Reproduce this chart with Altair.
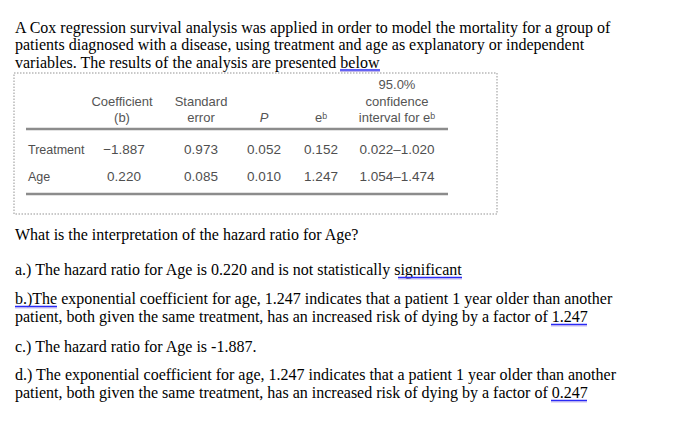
import altair as alt
import pandas as pd

# body text of the question, one entry per printed line
body_lines = [
    "A Cox regression survival analysis was applied in order to model the mortality for a group of",
    "patients diagnosed with a disease, using treatment and age as explanatory or independent",
    "variables. The results of the analysis are presented below",
    "What is the interpretation of the hazard ratio for Age?",
    "a.) The hazard ratio for Age is 0.220 and is not statistically significant",
    "b.)The exponential coefficient for age, 1.247 indicates that a patient 1 year older than another",
    "patient, both given the same treatment, has an increased risk of dying by a factor of 1.247",
    "c.) The hazard ratio for Age is -1.887.",
    "d.) The exponential coefficient for age, 1.247 indicates that a patient 1 year older than another",
    "patient, both given the same treatment, has an increased risk of dying by a factor of 0.247",
]

# table contents
col_headers = [
    ["Coefficient", "(b)"],
    ["Standard", "error"],
    ["P"],
    ["e\u1d47"],
    ["95.0%", "confidence", "interval for e\u1d47"],
]
row_labels = ["Treatment", "Age"]
coef = ["\u22121.887", "0.220"]
std_err = ["0.973", "0.085"]
p_value = ["0.052", "0.010"]
exp_b = ["0.152", "1.247"]
conf_int = ["0.022\u20131.020", "1.054\u20131.474"]

# layout (page pixel positions of the reference)
left_margin = 15
body_baselines = [32.5, 50, 67.5, 239.5, 274.5, 303.5, 321.5, 351.5, 379.5, 397.5]
underlines = [(340, 380, 70), (398, 462, 277.5), (15, 57, 306.5), (551, 587, 324.5), (551, 587, 400.5)]
col_x = [122, 201, 264, 321, 397]
num_x = [124, 201, 264, 321, 397]
header_bottom = 118
header_step = 16.5
row_y = [150, 177]
label_x = 28
rule_y = [129, 194]
rule_x = (26, 448)
box = (14, 497, 73, 214)

xs = alt.Scale(domain=[8, 679], nice=False, zero=False)
ys = alt.Scale(domain=[8, 415], nice=False, zero=False, reverse=True)


def X(f):
    return alt.X(f, type="quantitative", scale=xs, axis=None)


def Y(f):
    return alt.Y(f, type="quantitative", scale=ys, axis=None)


body = pd.DataFrame({"t": body_lines, "x": left_margin, "y": body_baselines})
body_layer = alt.Chart(body).mark_text(
    align="left", baseline="alphabetic", font="Liberation Serif", fontSize=16, color="#000000"
).encode(x=X("x"), y=Y("y"), text="t:N")

# link / spell-check underlines: blue line with a faint violet one below
ul = pd.DataFrame(underlines, columns=["x0", "x1", "y"])
ul_layer = alt.Chart(ul).mark_rule(color="#2a2af5", strokeWidth=1.3).encode(
    x=X("x0"), x2="x1", y=Y("y")
)
ul_layer2 = alt.Chart(ul).mark_rule(color="#a596e6", strokeWidth=0.8, yOffset=1.4).encode(
    x=X("x0"), x2="x1", y=Y("y")
)

# dotted frame around the table image
frame = pd.DataFrame([box], columns=["x0", "x1", "y0", "y1"])
frame_layer = alt.Chart(frame).mark_rect(
    filled=False, stroke="#b8b8b8", strokeWidth=1.5, strokeDash=[1.5, 1.5]
).encode(x=X("x0"), x2="x1", y=Y("y0"), y2="y1")

# table rules
rules = pd.DataFrame({"y": rule_y, "x0": rule_x[0], "x1": rule_x[1]})
rule_layer = alt.Chart(rules).mark_rule(color="#8c8c8c", strokeWidth=2.5).encode(
    x=X("x0"), x2="x1", y=Y("y")
)

# header text
hdr = []
for cx, lines in zip(col_x, col_headers):
    n = len(lines)
    for i, t in enumerate(lines):
        hdr.append({"t": t, "x": cx, "y": header_bottom - (n - 1 - i) * header_step})
hdr = pd.DataFrame(hdr)
hdr_layer = alt.Chart(hdr).transform_filter(alt.datum.t != "P").mark_text(
    align="center", baseline="middle", font="Liberation Sans", fontSize=13, color="#555555"
).encode(x=X("x"), y=Y("y"), text="t:N")
p_layer = alt.Chart(hdr).transform_filter(alt.datum.t == "P").mark_text(
    align="center", baseline="middle", font="Liberation Sans", fontSize=13,
    fontStyle="italic", color="#555555"
).encode(x=X("x"), y=Y("y"), text="t:N")

# table rows
cells = []
for r, lab in enumerate(row_labels):
    cells.append({"t": lab, "x": label_x, "y": row_y[r], "a": "label"})
    for cx, col in zip(num_x, [coef, std_err, p_value, exp_b, conf_int]):
        cells.append({"t": col[r], "x": cx, "y": row_y[r], "a": "num"})
cells = pd.DataFrame(cells)
label_layer = alt.Chart(cells).transform_filter(alt.datum.a == "label").mark_text(
    align="left", baseline="middle", font="Liberation Sans", fontSize=12.5, color="#4f4f4f"
).encode(x=X("x"), y=Y("y"), text="t:N")
num_layer = alt.Chart(cells).transform_filter(alt.datum.a == "num").mark_text(
    align="center", baseline="middle", font="Liberation Sans", fontSize=13.5, color="#4f4f4f"
).encode(x=X("x"), y=Y("y"), text="t:N")

chart = alt.layer(
    frame_layer, rule_layer, hdr_layer, p_layer, label_layer, num_layer,
    body_layer, ul_layer, ul_layer2
).properties(
    width=671, height=407, padding=0, autosize=alt.AutoSizeParams(type="none")
).configure_view(stroke=None)

chart.save("out.html", embed_options={"renderer": "svg", "actions": False})
